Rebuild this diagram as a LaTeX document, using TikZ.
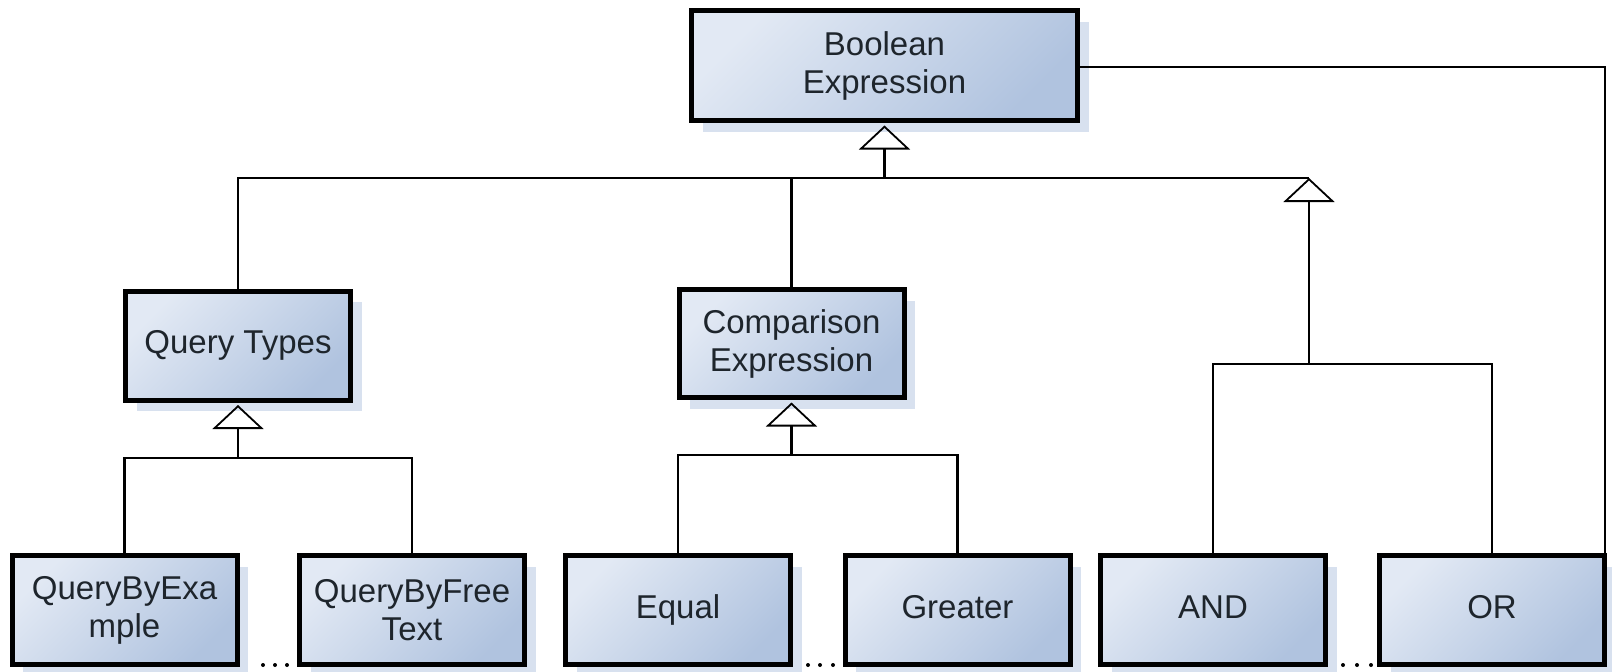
\documentclass[tikz,border=0pt]{standalone}
\usepackage{fontspec}
\setmainfont{Liberation Sans}
\usetikzlibrary{shadows,arrows.meta}
\definecolor{boxlight}{HTML}{E2E9F4}
\definecolor{boxdark}{HTML}{B0C3DF}
\definecolor{shadowblue}{HTML}{D8E1EF}
\definecolor{labelgray}{HTML}{1E252C}
\begin{document}
\begin{tikzpicture}[x=1pt,y=-1pt,
  classbox/.style={draw=black, line width=5pt, rectangle,
    top color=boxlight, bottom color=boxdark, shading angle=45,
    minimum width=225pt, minimum height=109pt, inner sep=0pt,
    align=center, text=labelgray, font=\fontsize{33}{38}\selectfont,
    drop shadow={shadow xshift=11pt, shadow yshift=-11pt,
      fill=shadowblue, opacity=1}},
  oneline/.style={text height=23.5pt, text depth=7pt},
  link/.style={draw=black, line width=2.6pt},
  inherit/.style={link, -{Triangle[open, length=24pt, width=51pt, line width=1.8pt]}}]
\useasboundingbox (0,0) rectangle (1612,672);

% class boxes
\node[classbox, minimum width=386pt, minimum height=110pt] (bool) at (884.5,65.5) {Boolean\\Expression};
\node[classbox, oneline] (qtypes) at (238,345.5) {Query Types};
\node[classbox, minimum height=108pt] (comp) at (791.5,343.5) {Comparison\\Expression};
\node[classbox] (qbe) at (124.5,610) {QueryByExa\\mple};
\node[classbox] (qbft) at (412,610) {QueryByFree\\Text};
\node[classbox, oneline] (equal) at (678,610) {Equal};
\node[classbox, oneline] (greater) at (957.5,610) {Greater};
\node[classbox, oneline] (and) at (1213,610) {AND};
\node[classbox, oneline] (or) at (1492,610) {OR};

% junction points of the inheritance trees
\coordinate (gtip) at (1309,178);
\coordinate (logicbus) at (1309,364);
\coordinate (qbus) at (238,458);
\coordinate (cbus) at (791.5,455);
\coordinate (corner) at (1605,67);

% top level generalisation
\draw[link] (qtypes.north) |- (gtip);
\draw[link] (comp.north) -- (comp.north |- gtip);
\draw[inherit] (bool.south |- gtip) -- ([yshift=-2.5pt]bool.south);

% logical operators
\draw[link] (and.north) |- (or.north |- logicbus) -- (or.north);
\draw[inherit] (logicbus) -- (gtip);

% query types
\draw[link] (qbe.north) |- (qbft.north |- qbus) -- (qbft.north);
\draw[inherit] (qtypes.south |- qbus) -- ([yshift=-2.5pt]qtypes.south);

% comparisons
\draw[link] (equal.north) |- (greater.north |- cbus) -- (greater.north);
\draw[inherit] (comp.south |- cbus) -- ([yshift=-2.5pt]comp.south);

% operands of OR back to the expression
\draw[link] (bool.east |- corner) -- (corner) -- (corner |- or.north);

% ellipsis marks between sibling classes
\foreach \x in {263,275,287, 808,820,833, 1343,1357,1371}
  \fill[black] (\x,665) circle (2pt);
\end{tikzpicture}
\end{document}
